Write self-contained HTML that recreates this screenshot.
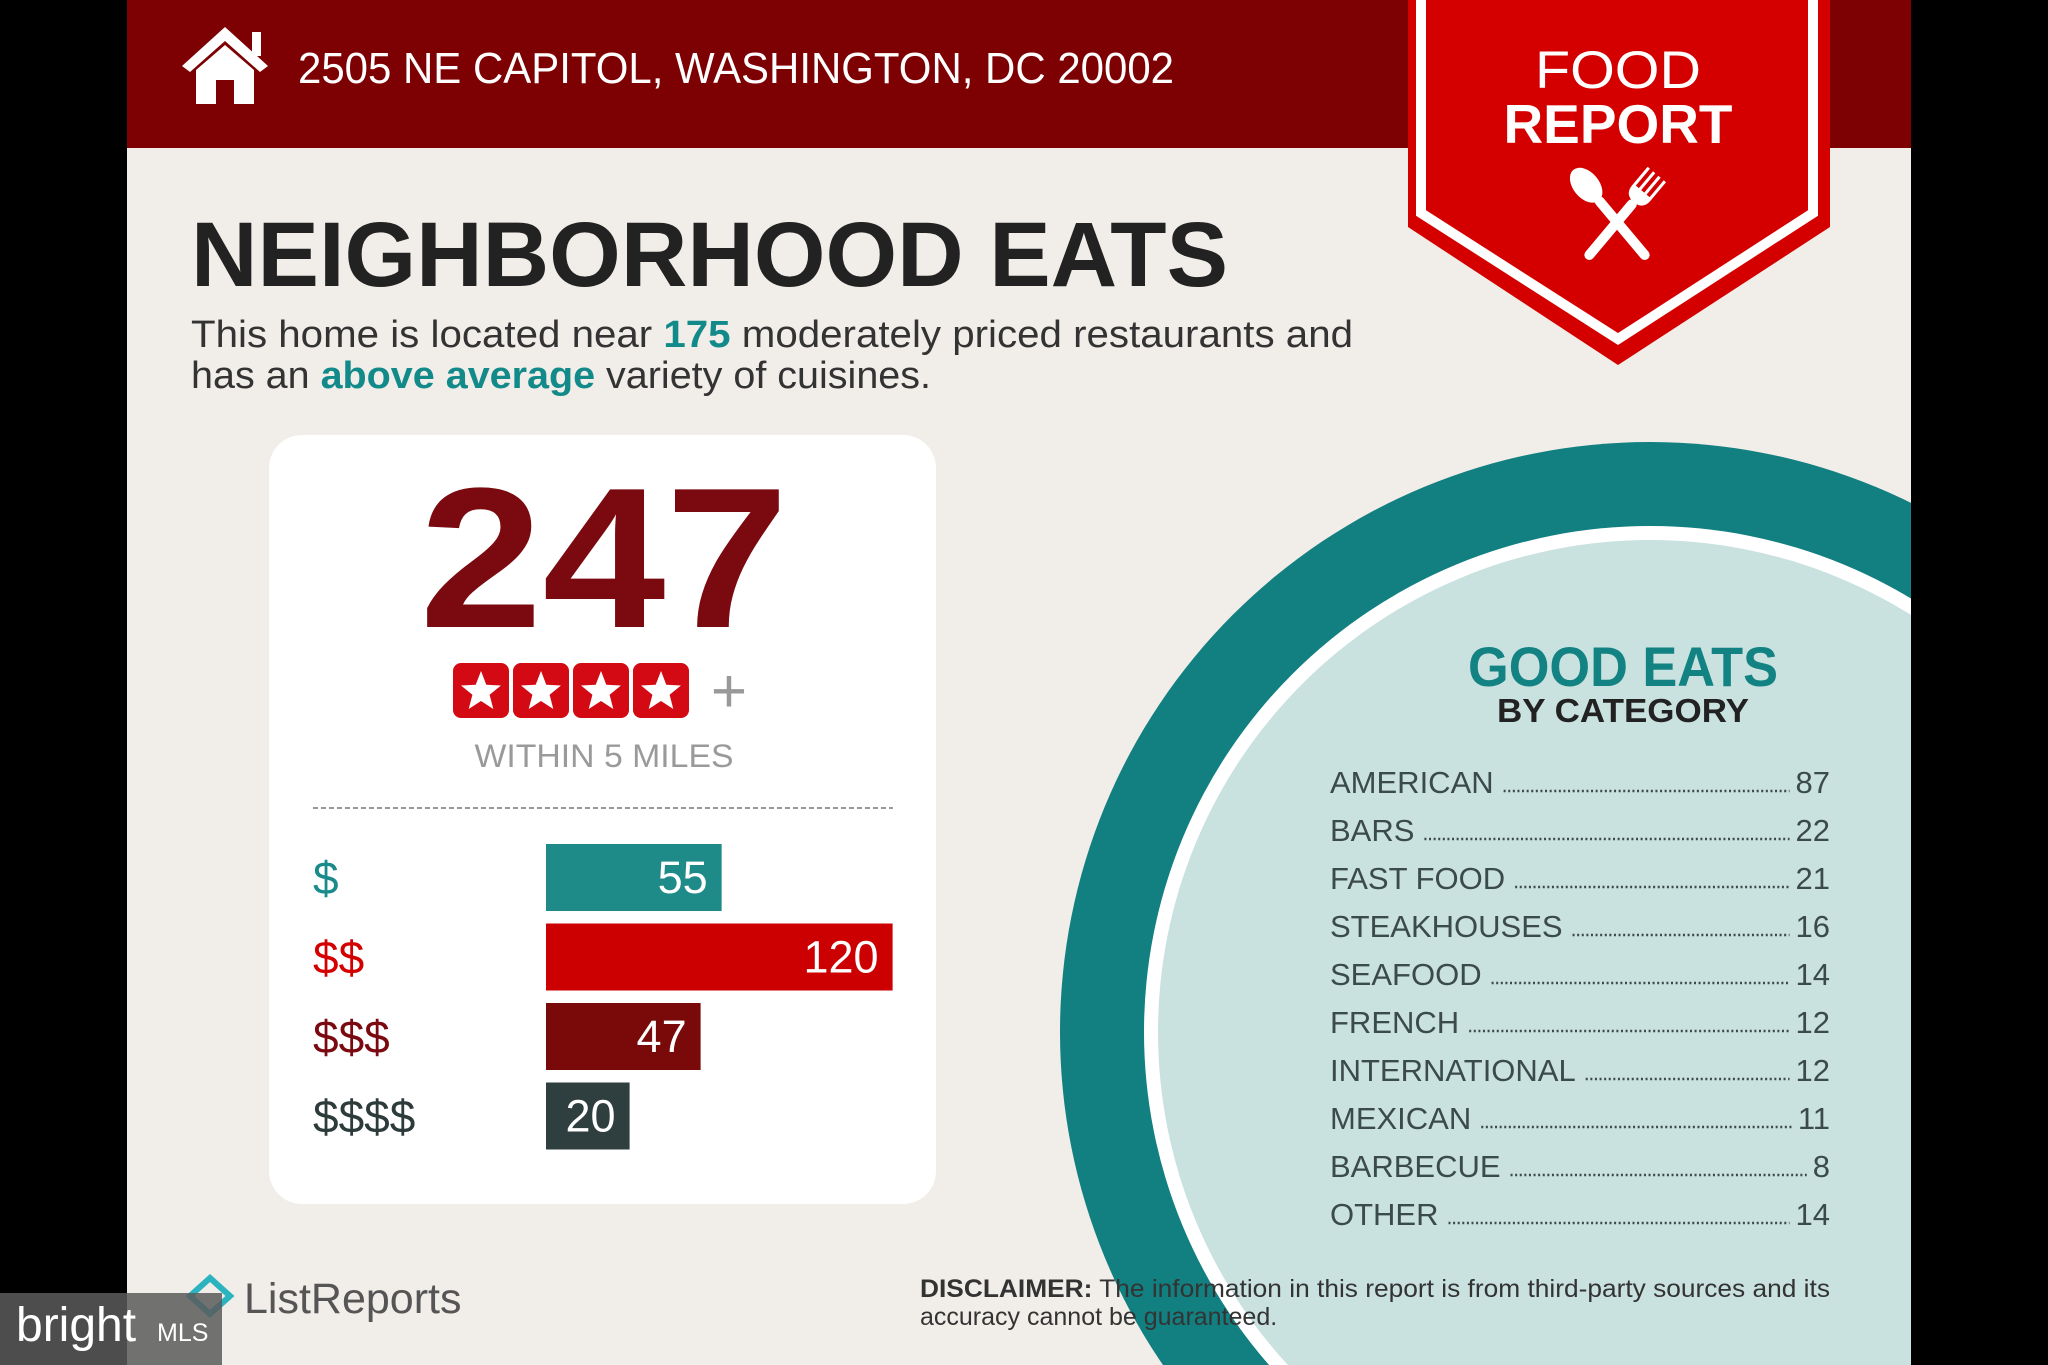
<!DOCTYPE html>
<html><head><meta charset="utf-8"><style>
html,body{margin:0;padding:0;background:#000;width:2048px;height:1365px;overflow:hidden;}
svg{display:block;}
text{font-family:"Liberation Sans",sans-serif;}
</style></head><body>
<svg id="root" width="2048" height="1365" viewBox="0 0 2048 1365" xmlns="http://www.w3.org/2000/svg">
<defs>
<clipPath id="pageclip"><rect x="127" y="0" width="1784" height="1365"/></clipPath>
</defs>
<rect x="0" y="0" width="2048" height="1365" fill="#000"/>
<g clip-path="url(#pageclip)">
<rect x="127" y="0" width="1784" height="1365" fill="#f1ede9"/>
<rect x="127" y="0" width="1784" height="148" fill="#7d0002"/>
<g fill="#fff">
<polygon points="225,27 268,66 260,72 225,41 190,72 182,66"/>
<rect x="252" y="32" width="9" height="24"/>
<polygon points="196,70 225,45 254,70 254,104 234,104 234,80 216,80 216,104 196,104"/>
</g>
<text x="298" y="83" font-size="44" fill="#fff" textLength="876" lengthAdjust="spacingAndGlyphs">2505 NE CAPITOL, WASHINGTON, DC 20002</text>
<g>
<polygon points="1408,0 1830,0 1830,227 1618,365 1408,227" fill="#d40000"/>
<polyline points="1421,0 1421,213 1618,339 1813,213 1813,0" fill="none" stroke="#fff" stroke-width="10"/>
<text x="1618" y="88" font-size="53" fill="#fff" text-anchor="middle" textLength="166" lengthAdjust="spacingAndGlyphs">FOOD</text>
<text x="1618" y="143" font-size="55" font-weight="bold" fill="#fff" text-anchor="middle" textLength="229" lengthAdjust="spacingAndGlyphs">REPORT</text>
<g fill="#fff">
<g transform="translate(1617,222) rotate(-40)">
<ellipse cx="0" cy="-48" rx="13" ry="20"/>
<rect x="-5" y="-32" width="10" height="80" rx="5"/>
</g>
<g transform="translate(1617,222) rotate(40)">
<rect x="-5" y="-28" width="10" height="76" rx="5"/>
<path d="M-12,-62 L-12,-38 Q-12,-26 0,-26 Q12,-26 12,-38 L12,-62 L9,-62 L9,-40 L5,-40 L5,-62 L2,-62 L2,-40 L-2,-40 L-2,-62 L-5,-62 L-5,-40 L-9,-40 L-9,-62 Z"/>
</g>
</g>
</g>
<text x="191" y="286" font-size="92" font-weight="bold" fill="#222" textLength="1037" lengthAdjust="spacingAndGlyphs">NEIGHBORHOOD EATS</text>
<text x="191" y="347" font-size="38" fill="#333" textLength="1162" lengthAdjust="spacingAndGlyphs">This home is located near <tspan font-weight="bold" fill="#138a8a">175</tspan> moderately priced restaurants and</text>
<text x="191" y="388" font-size="38" fill="#333" textLength="740" lengthAdjust="spacingAndGlyphs">has an <tspan font-weight="bold" fill="#138a8a">above average</tspan> variety of cuisines.</text>
<rect x="269" y="435" width="667" height="769" rx="33" fill="#fff"/>
<text x="604" y="627" font-size="200" font-weight="bold" fill="#7a0a10" text-anchor="middle" textLength="369" lengthAdjust="spacingAndGlyphs">247</text>
<g id="stars"></g>
<text x="729" y="712" font-size="62" fill="#999" text-anchor="middle">+</text>
<text x="604" y="767" font-size="32" fill="#9a9a9a" text-anchor="middle" textLength="259" lengthAdjust="spacingAndGlyphs">WITHIN 5 MILES</text>
<line x1="313" y1="808" x2="893" y2="808" stroke="#999" stroke-width="2" stroke-dasharray="5,3"/>
<g id="pricebars"></g>
<g>
<circle cx="1650" cy="1032" r="590" fill="#127f80"/>
<circle cx="1650" cy="1032" r="506" fill="#fff"/>
<circle cx="1650" cy="1032" r="492" fill="#c9e1df"/>
</g>
<text x="1623" y="686" font-size="56" font-weight="bold" fill="#138283" text-anchor="middle" textLength="310" lengthAdjust="spacingAndGlyphs">GOOD EATS</text>
<text x="1623" y="722" font-size="33" font-weight="bold" fill="#222" text-anchor="middle" textLength="252" lengthAdjust="spacingAndGlyphs">BY CATEGORY</text>
<g id="catlist"></g>
<g>
<polygon points="210,1278 230,1296 210,1314 190,1296" fill="none" stroke="#2bb3c0" stroke-width="6"/>
<text x="244" y="1313" font-size="43" fill="#555">ListReports</text>
</g>
<text x="920" y="1297" font-size="25" fill="#333" textLength="910" lengthAdjust="spacingAndGlyphs"><tspan font-weight="bold">DISCLAIMER:</tspan> The information in this report is from third-party sources and its</text>
<text x="920" y="1325" font-size="25" fill="#333">accuracy cannot be guaranteed.</text>
</g>
<g>
<rect x="0" y="1293" width="222" height="72" fill="#5a5a5a" opacity="0.85"/>
<text x="16" y="1341" font-size="48" fill="#fff" font-family="Liberation Serif, serif">bright</text>
<text x="157" y="1341" font-size="25" fill="#fff">MLS</text>
</g>
</svg>
<script>
const priceLabels = ["$", "$$", "$$$", "$$$$"];
const priceValues = [55, 120, 47, 20];
const categories = ["AMERICAN","BARS","FAST FOOD","STEAKHOUSES","SEAFOOD","FRENCH","INTERNATIONAL","MEXICAN","BARBECUE","OTHER"];
const categoryCounts = [87, 22, 21, 16, 14, 12, 12, 11, 8, 14];
const starCount = 4;

const NS = "http://www.w3.org/2000/svg";
function mk(tag, attrs, parent){ const e=document.createElementNS(NS,tag); for(const k in attrs) e.setAttribute(k,attrs[k]); parent.appendChild(e); return e; }

const sg = document.getElementById('stars');
function starPts(cx,cy,R,r){ let p=[]; for(let i=0;i<10;i++){ const a=-Math.PI/2+i*Math.PI/5; const rr=i%2?r:R; p.push((cx+rr*Math.cos(a)).toFixed(1)+","+(cy+rr*Math.sin(a)).toFixed(1)); } return p.join(" "); }
for(let i=0;i<starCount;i++){
  const x=453+i*60;
  const b=mk('rect',{x:x,y:663,width:56,height:55,rx:8,fill:'#d30a14'},sg);
  
  
  const s=mk('polygon',{points:starPts(x+28,692,21,9),fill:'#fff'},sg);
  
  
}

const barColors=['#1e8b89','#cc0000','#7a0a0a','#2f3e3e'];
const labelColors=['#1a8a8a','#d40000','#7a0a10','#2d3b3b'];
const pg=document.getElementById('pricebars');
const x0=546, xOff=31, xScale=2.63, rowY0=844, rowStep=79.5, barH=67;
function xw(v){ return xOff + v*xScale; }
priceValues.forEach((v,i)=>{
  const y=rowY0+i*rowStep;
  const lab=mk('text',{x:313,y:y+50,'font-size':46,fill:labelColors[i]},pg);
  lab.textContent=priceLabels[i];
  
  
  const r=mk('rect',{x:x0,y:y,width:xw(v),height:barH,fill:barColors[i]},pg);
  
  
  const t=mk('text',{x:x0+xw(v)-14,y:y+49,'font-size':45,fill:'#fff','text-anchor':'end'},pg);
  t.textContent=v;
  
  
});

const cg=document.getElementById('catlist');
const listX=1330, listR=1830, baseY0=793, listStep=48;
categories.forEach((c,i)=>{
  const y=baseY0+i*listStep;
  const t=mk('text',{x:listX,y:y,'font-size':31,fill:'#3b4a4a'},cg);
  t.textContent=c;
  
  
  const n=mk('text',{x:listR,y:y,'font-size':31,fill:'#3b4a4a','text-anchor':'end'},cg);
  n.textContent=categoryCounts[i];
  
  
  const w1=t.getComputedTextLength(), w2=n.getComputedTextLength();
  const l=mk('line',{x1:listX+w1+10,y1:y-2,x2:listR-w2-6,y2:y-2,stroke:'#3b4a4a','stroke-width':2.5,'stroke-dasharray':'2,2.6'},cg);
  
  
});
</script>
</body></html>
